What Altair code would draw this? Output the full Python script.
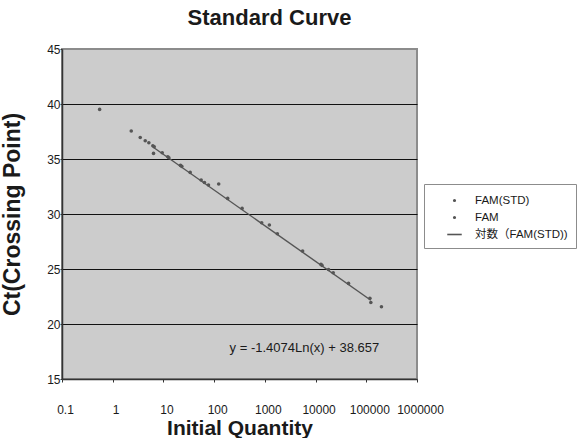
import altair as alt
import pandas as pd

# ---- data ----
qty = [0.552, 2.32, 3.49, 4.38, 5.16, 6.18, 6.59, 6.38, 9.47, 12.2, 12.8,
       21.7, 23.0, 33.7, 55.5, 64.4, 77.3, 123, 185, 356, 865, 1227, 1762,
       5550, 12770, 13370, 18030, 22300, 44700, 117800, 123000, 199000]
ct = [39.51, 37.55, 36.96, 36.66, 36.48, 36.21, 36.12, 35.51, 35.57, 35.21,
      35.12, 34.42, 34.33, 33.78, 33.09, 32.87, 32.64, 32.73, 31.42, 30.51,
      29.21, 29.00, 28.21, 26.64, 25.42, 25.33, 24.96, 24.66, 23.69, 22.33,
      21.96, 21.57]

line_qty = [6.2, 123000]
line_ct = [36.09, 22.16]

legend_labels = ["FAM(STD)", "FAM", "対数（FAM(STD))"]
x_ticks = [0.1, 1, 10, 100, 1000, 10000, 100000, 1000000]
y_ticks = [15, 20, 25, 30, 35, 40, 45]

eq_text = ["y = -1.4074Ln(x) + 38.657"]
eq_qty = [180000]
eq_ct = [17.85]

FONT = "'Liberation Sans', Arial, 'Noto Sans CJK JP'"
TXT = "#1a1a1a"
PT = "#555555"

pts = pd.DataFrame({"q": qty, "ct": ct})
ln = pd.DataFrame({"q": line_qty, "ct": line_ct})
leg = pd.DataFrame({"series": legend_labels})
eq = pd.DataFrame({"q": eq_qty, "ct": eq_ct, "t": eq_text})

xscale = alt.Scale(type="log", domain=[0.1, 1000000], nice=False)
yscale = alt.Scale(domain=[15, 45], nice=False, zero=False)

xaxis = alt.Axis(
    title="Initial Quantity", values=x_ticks, grid=False,
    labelExpr="datum.value < 1 ? '0.1' : format(datum.value, 'd')",
    labelFont=FONT, labelFontSize=12, labelColor=TXT, labelPadding=22,
    labelOffset=3, labelFlush=False,
    tickSize=3, tickColor="#333333", domainColor="#333333", domainWidth=1.5,
    titleFont=FONT, titleFontSize=21, titleFontWeight="bold", titleColor=TXT,
    titlePadding=2,
)
yaxis = alt.Axis(
    title="Ct(Crossing Point)", values=y_ticks, grid=True,
    gridColor={"condition": {"test": "datum.value == 15 || datum.value == 45",
                             "value": "transparent"}, "value": "#111111"},
    gridWidth=1, gridOpacity=1,
    labelFont=FONT, labelFontSize=12, labelColor=TXT, labelPadding=0,
    labelFlush=False,
    tickSize=2, tickColor="#333333", domainColor="#333333", domainWidth=1.5,
    titleFont=FONT, titleFontSize=23, titleFontWeight="bold", titleColor=TXT,
    titlePadding=22,
)

base_x = alt.X("q:Q", scale=xscale, axis=xaxis)
base_y = alt.Y("ct:Q", scale=yscale, axis=yaxis)

trend = alt.Chart(ln).mark_line(color=PT, strokeWidth=1.4).encode(
    x=alt.X("q:Q", scale=xscale), y=alt.Y("ct:Q", scale=yscale))

dots = alt.Chart(pts).mark_circle(color=PT, size=13, opacity=1).encode(
    x=base_x, y=base_y)

eq_layer = alt.Chart(eq).mark_text(
    align="right", baseline="middle", font=FONT, fontSize=13, color=TXT
).encode(x=alt.X("q:Q", scale=xscale), y=alt.Y("ct:Q", scale=yscale), text="t:N")

dot_path = "M-0.11,0A0.11,0.11,0,1,1,0.11,0A0.11,0.11,0,1,1,-0.11,0Z"
line_path = "M-1,0L1,0"

legend_layer = alt.Chart(leg).mark_point(
    filled=False, color=PT, opacity=0, strokeWidth=1.6
).encode(
    x=alt.value(0), y=alt.value(0),
    shape=alt.Shape(
        "series:N",
        scale=alt.Scale(domain=legend_labels, range=[dot_path, dot_path, line_path]),
        legend=alt.Legend(
            title=None, orient="none", legendX=362, legendY=135,
            fillColor="white", strokeColor="#8c8c8c", padding=8,
            symbolSize=210, symbolOpacity=1, symbolFillColor=PT,
            symbolStrokeColor=PT, symbolStrokeWidth=1.6, symbolOffset=14,
            labelOffset=12, rowPadding=3, labelFont=FONT, labelFontSize=11.5,
            labelColor=TXT, labelLimit=300,
        ),
    ),
)

chart = alt.layer(legend_layer, trend, dots, eq_layer).properties(
    width=355, height=330,
    title=alt.TitleParams(
        "Standard Curve", font=FONT, fontSize=22, fontWeight="bold",
        color=TXT, anchor="middle", dx=30, offset=13,
    ),
    padding={"left": 1, "top": 7, "right": 0, "bottom": 0},
).configure(
    background="white"
).configure_view(
    fill="#cccccc", stroke="#8c8c8c", strokeWidth=2
)

chart.save("out.html", embed_options={"renderer": "svg", "actions": False})
